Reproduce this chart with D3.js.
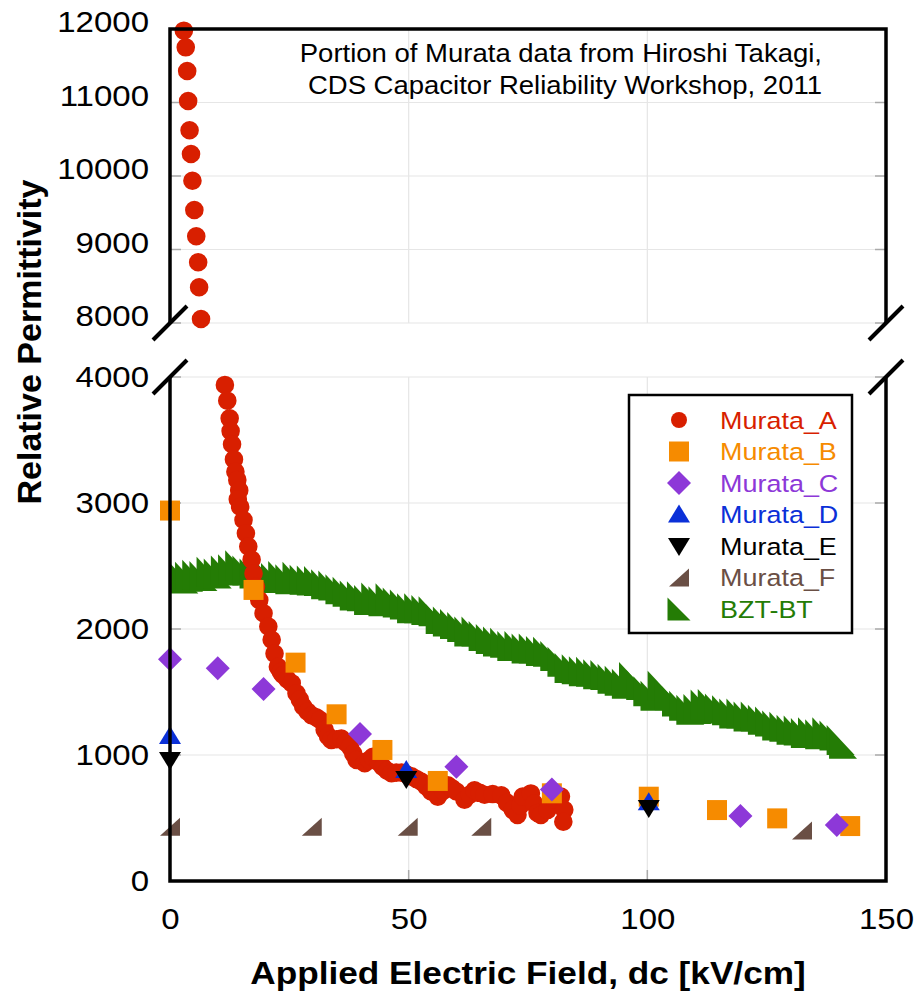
<!DOCTYPE html>
<html>
<head>
<meta charset="utf-8">
<script src="https://cdn.jsdelivr.net/npm/d3@7"></script>
<style>
  body { margin: 0; background: #fff; }
  svg text { font-family: "Liberation Sans", Arial, sans-serif; }
</style>
</head>
<body>
<svg id="chart" width="917" height="995"></svg>
<script>
// ---- data ----
const xTicks = [0, 50, 100, 150];
const yTicksLow = [0, 1000, 2000, 3000, 4000];
const yTicksHigh = [8000, 9000, 10000, 11000, 12000];

const seriesNames = ["Murata_A", "Murata_B", "Murata_C", "Murata_D", "Murata_E", "Murata_F", "BZT-BT"];
const seriesColors = ["#d81f00", "#f68b00", "#8d38d8", "#0b30d8", "#000000", "#6a4f45", "#247c05"];

// Murata_A, upper panel
const murataAHigh = [
  [2.9, 11977], [3.3, 11751], [3.6, 11429], [3.8, 11020], [4.1, 10622], [4.4, 10299],
  [4.7, 9936], [5.1, 9537], [5.5, 9180], [5.9, 8826], [6.1, 8486], [6.5, 8054]
];
// Murata_A, lower panel
const murataALow = [
  [11.5, 3937], [12.0, 3812], [12.5, 3672], [12.7, 3571], [13.0, 3466], [13.4, 3346],
  [13.7, 3248], [14.1, 3183], [14.5, 3100], [14.2, 3030], [14.7, 2970], [15.4, 2865],
  [15.9, 2760], [16.4, 2655], [17.1, 2550], [17.5, 2440], [18.0, 2335], [18.7, 2230],
  [19.6, 2125], [20.6, 2020], [21.3, 1915], [21.9, 1805], [22.6, 1700], [23.2, 1660], [23.7, 1635],
  [24.6, 1600], [25.5, 1570], [26.5, 1490], [27.2, 1440], [27.9, 1385], [28.8, 1345], [29.7, 1315],
  [30.6, 1300], [31.4, 1280], [32.4, 1200], [33.1, 1150], [33.8, 1120], [34.9, 1125], [35.9, 1130],
  [36.8, 1100], [37.7, 1065], [38.4, 1010], [39.1, 960], [40.8, 935], [41.7, 960], [42.5, 985],
  [43.6, 945], [44.6, 905], [45.5, 875], [46.4, 855], [47.4, 860], [48.5, 860], [49.6, 845], [50.6, 830],
  [51.6, 810], [52.6, 790], [53.7, 750], [54.7, 710], [56.1, 670], [57.2, 715], [58.2, 760],
  [59.1, 735], [60.0, 710], [61.7, 645], [62.8, 685], [63.8, 720], [64.9, 700], [65.9, 685],
  [67.6, 690], [69.4, 680], [70.6, 620], [71.8, 565], [72.8, 525], [73.4, 600],
  [73.9, 670], [75.6, 695], [76.3, 615], [77.0, 540], [77.7, 525], [79.1, 565],
  [80.5, 645], [81.9, 670], [82.6, 565], [82.4, 470]
];
const murataB = [[0, 2940], [17.5, 2310], [26.3, 1733], [34.9, 1323], [44.5, 1040], [56.1, 794],
  [80.0, 696], [100.3, 669], [114.6, 563], [127.2, 497], [142.5, 436]];
const murataC = [[0, 1760], [10.0, 1688], [19.6, 1524], [39.8, 1167], [60.0, 907], [80.0, 727],
  [119.5, 516], [139.7, 444]];
const murataD = [[0, 1150], [49.5, 880], [100.3, 625]];
const murataE = [[0, 960], [49.5, 810], [100.3, 580]];
const murataF = [[0, 430], [29.7, 430], [49.8, 430], [65.2, 430], [132.4, 400]];
const bztBT = [
  [3, 2400], [4, 2415], [5.5, 2430], [7, 2420], [8.5, 2455], [10, 2440], [11.5, 2465],
  [13, 2475], [14.5, 2505], [16, 2465], [17.5, 2440], [19, 2420], [20.5, 2430], [22, 2405],
  [23.5, 2420], [25, 2395], [26.5, 2415], [28, 2390], [29.5, 2385], [31, 2380], [32.5, 2355],
  [34, 2345], [35.5, 2315], [37, 2295], [38.5, 2265], [40, 2260], [41.5, 2230], [43, 2250],
  [44.5, 2220], [46, 2245], [47.5, 2210], [49, 2195], [50.5, 2165], [52, 2165], [53.5, 2150],
  [55, 2140], [56.5, 2080], [58, 2060], [59.5, 2040], [61, 2015], [62.5, 1980], [64, 1980],
  [65.5, 1945], [67, 1920], [68.5, 1900], [70, 1890], [71.5, 1865], [73, 1865], [74.5, 1845],
  [76, 1845], [77.5, 1825], [79, 1820], [80.5, 1785], [82, 1740], [83.5, 1690], [85, 1680],
  [86.5, 1665], [88, 1660], [89.5, 1640], [91, 1635], [92.5, 1605], [94, 1590], [95.5, 1565],
  [97, 1620], [98.5, 1555], [100, 1505], [101.5, 1470], [103, 1550], [104.5, 1475], [106, 1425],
  [107.5, 1390], [109, 1360], [110.5, 1365], [112, 1400], [113.5, 1405], [115, 1370], [116.5, 1355],
  [118, 1330], [119.5, 1330], [121, 1305], [122.5, 1305], [124, 1280], [125.5, 1265], [127, 1235],
  [128.5, 1225], [130, 1200], [131.5, 1195], [133, 1175], [134.5, 1180], [136, 1165], [137.5, 1180],
  [139, 1155], [140.5, 1120], [141, 1090]
];

const noteLines = ["Portion of Murata data from Hiroshi Takagi,", "CDS Capacitor Reliability Workshop, 2011"];

// ---- layout ----
const svg = d3.select("#chart");
const left = 170, right = 886;
const lowTop = 377, lowBottom = 881;
const highTop = 29, highBottom = 323;

const xScale = d3.scaleLinear().domain([0, 150]).range([left, right]);
const yLow = d3.scaleLinear().domain([0, 4000]).range([lowBottom, lowTop]);
const yHigh = d3.scaleLinear().domain([8000, 12000]).range([highBottom, highTop]);

const gridColor = "#e6e6e6";
const tickColor = "#aaaaaa";

// marker shapes, centred on 0,0
function marker(type) {
  switch (type) {
    case "circle": return d3.symbol(d3.symbolCircle, Math.PI * 9.3 * 9.3)();
    case "square": return "M-10,-10H10V10H-10Z";
    case "diamond": return "M0,-12L12,0L0,12L-12,0Z";
    case "up": return "M-11,8L11,8L0,-10Z";
    case "down": return "M-11,-8L11,-8L0,10Z";
    case "rtri": return "M-10,9L10,9L10,-9Z";
    case "ltri": return "M-14,-15L-14,15L14,15Z";
  }
}
const markerTypes = ["circle", "square", "diamond", "up", "down", "rtri", "ltri"];

// grid lines
function drawGrid(yScale, ticks, top, bottom) {
  const g = svg.append("g");
  g.selectAll(".hgrid").data(ticks).enter().append("line")
    .attr("x1", left).attr("x2", right)
    .attr("y1", d => yScale(d)).attr("y2", d => yScale(d))
    .attr("stroke", gridColor).attr("stroke-width", 1.2);
  g.selectAll(".vgrid").data([50, 100]).enter().append("line")
    .attr("x1", d => xScale(d)).attr("x2", d => xScale(d))
    .attr("y1", top).attr("y2", bottom)
    .attr("stroke", gridColor).attr("stroke-width", 1.2);
  // short inward ticks
  g.selectAll(".ltick").data(ticks).enter().append("line")
    .attr("x1", left).attr("x2", left + 11)
    .attr("y1", d => yScale(d)).attr("y2", d => yScale(d))
    .attr("stroke", tickColor).attr("stroke-width", 1.5);
  g.selectAll(".rtick").data(ticks).enter().append("line")
    .attr("x1", right - 11).attr("x2", right)
    .attr("y1", d => yScale(d)).attr("y2", d => yScale(d))
    .attr("stroke", tickColor).attr("stroke-width", 1.5);
}
drawGrid(yHigh, yTicksHigh, highTop, highBottom);
drawGrid(yLow, yTicksLow, lowTop, lowBottom);
svg.append("g").selectAll("line").data([50, 100]).enter().append("line")
  .attr("x1", d => xScale(d)).attr("x2", d => xScale(d))
  .attr("y1", lowBottom - 11).attr("y2", lowBottom)
  .attr("stroke", tickColor).attr("stroke-width", 1.5);

// axes labels
const fmt = d3.format("d");
const yAxisLow = svg.append("g")
  .attr("transform", `translate(${left}, 0)`)
  .call(d3.axisLeft(yLow).tickValues(yTicksLow).tickFormat(fmt).tickSize(0).tickPadding(21));
const yAxisHigh = svg.append("g")
  .attr("transform", `translate(${left}, -7)`)
  .call(d3.axisLeft(yHigh).tickValues(yTicksHigh).tickFormat(fmt).tickSize(0).tickPadding(21));
const xAxis = svg.append("g")
  .attr("transform", `translate(0, ${lowBottom})`)
  .call(d3.axisBottom(xScale).tickValues(xTicks).tickFormat(fmt).tickSize(0).tickPadding(27));

[yAxisLow, yAxisHigh, xAxis].forEach(ax => {
  ax.select(".domain").remove();
  ax.selectAll("text")
    .attr("class", "stretch")
    .attr("fill", "#000")
    .style("font-size", "30px")
    .style("font-family", "'Liberation Sans', Arial, sans-serif");
});

// series
const plotG = svg.append("g");

function drawSeries(data, idx, yScale) {
  plotG.append("g").selectAll("path").data(data).enter().append("path")
    .attr("d", marker(markerTypes[idx]))
    .attr("transform", d => `translate(${xScale(d[0])}, ${yScale(d[1])})`)
    .attr("fill", seriesColors[idx]);
}
drawSeries(bztBT, 6, yLow);
drawSeries(murataAHigh, 0, yHigh);
drawSeries(murataALow, 0, yLow);
drawSeries(murataB, 1, yLow);
drawSeries(murataC, 2, yLow);
drawSeries(murataD, 3, yLow);
drawSeries(murataE, 4, yLow);
drawSeries(murataF, 5, yLow);

// frame with axis breaks
const frame = svg.append("g").attr("fill", "none").attr("stroke", "#000");
frame.append("path")
  .attr("d", `M${left},${highBottom}V${highTop}H${right}V${highBottom}`)
  .attr("stroke-width", 3.5);
frame.append("path")
  .attr("d", `M${left},${lowTop}V${lowBottom}H${right}V${lowTop}`)
  .attr("stroke-width", 3.5);
[[left, highBottom], [left, lowTop], [right, highBottom], [right, lowTop]].forEach(c => {
  frame.append("line")
    .attr("x1", c[0] - 17).attr("y1", c[1] + 17)
    .attr("x2", c[0] + 17).attr("y2", c[1] - 17)
    .attr("stroke-width", 4);
});

// legend
const legend = svg.append("g");
legend.append("rect")
  .attr("x", 629).attr("y", 395).attr("width", 223).attr("height", 238)
  .attr("fill", "#fff").attr("stroke", "#000").attr("stroke-width", 2.5);
seriesNames.forEach((name, i) => {
  const cy = 420 + i * 31.5;
  const sym = markerTypes[i] === "ltri" ? "M-11.5,-11.5L-11.5,11.5L11.5,11.5Z"
    : markerTypes[i] === "circle" ? d3.symbol(d3.symbolCircle, Math.PI * 8 * 8)()
    : marker(markerTypes[i]);
  legend.append("path")
    .attr("d", sym)
    .attr("transform", `translate(679, ${cy})`)
    .attr("fill", seriesColors[i]);
  legend.append("text")
    .attr("class", "stretch")
    .attr("x", 720).attr("y", cy)
    .attr("dominant-baseline", "central")
    .attr("fill", seriesColors[i])
    .style("font-size", "24.5px")
    .text(name);
});

// note
svg.append("g").selectAll("text").data(noteLines).enter().append("text")
  .attr("class", "stretch")
  .attr("x", 822).attr("y", (d, i) => 62 + i * 32)
  .attr("text-anchor", "end")
  .style("font-size", "25px")
  .text(d => d);

// axis titles
svg.append("text")
  .attr("class", "stretch")
  .attr("x", 528).attr("y", 984)
  .attr("text-anchor", "middle")
  .style("font-size", "32px").style("font-weight", "bold")
  .text("Applied Electric Field, dc [kV/cm]");
svg.append("text")
  .attr("transform", "translate(41, 342) rotate(-90)")
  .attr("text-anchor", "middle")
  .style("font-size", "34px").style("font-weight", "bold")
  .text("Relative Permittivity");

// horizontal stretch of the text, as in the picture
svg.selectAll("text.stretch").each(function () {
  const w = this.getComputedTextLength();
  d3.select(this).attr("textLength", w * 1.1).attr("lengthAdjust", "spacingAndGlyphs");
});
</script>
</body>
</html>
